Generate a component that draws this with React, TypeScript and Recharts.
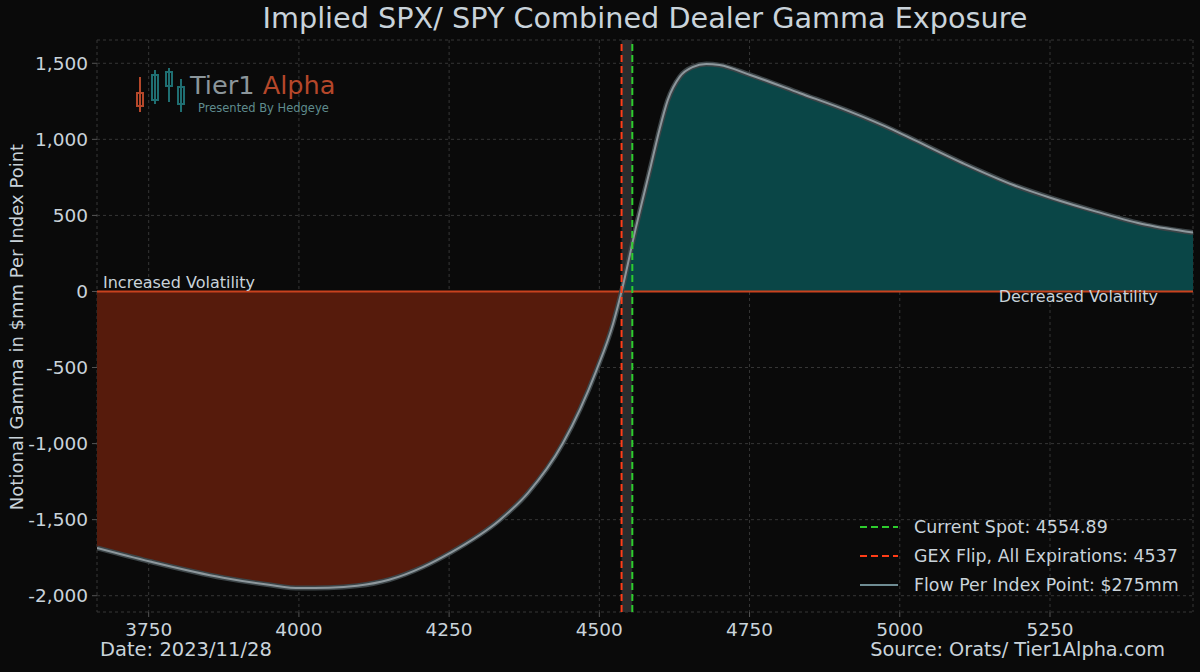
import React from 'react';
import {
  ComposedChart,
  Area,
  Line,
  XAxis,
  YAxis,
  CartesianGrid,
  ReferenceLine,
  ReferenceArea,
} from 'recharts';

const strikes = [
  3664, 3752, 3874, 3950, 4002, 4050, 4097, 4150, 4207, 4251, 4335, 4381, 4439,
  4495, 4523, 4537, 4560, 4586, 4600, 4614, 4634, 4655, 4678, 4700, 4751, 4834,
  4917, 4989, 5022, 5105, 5189, 5253, 5327, 5410, 5488,
];
const gamma = [
  -1686, -1775, -1882, -1928, -1950, -1948, -1935, -1895, -1810, -1720, -1500,
  -1325, -1000, -520, -210, 0, 405, 830, 1062, 1259, 1412, 1475, 1495, 1488, 1423,
  1303, 1182, 1062, 1000, 843, 700, 613, 525, 438, 387,
];
const xTicks = [3750, 4000, 4250, 4500, 4750, 5000, 5250];
const yTicks = [-2000, -1500, -1000, -500, 0, 500, 1000, 1500];
const currentSpot = 4554.89;
const gexFlip = 4537;
const flowPerPoint = 275;
const dateLabel = '2023/11/28';

const data = strikes.map((s, i) => ({
  strike: s,
  gamma: gamma[i],
  pos: Math.max(gamma[i], 0),
  neg: Math.min(gamma[i], 0),
}));

const FONT = '"DejaVu Sans", sans-serif';
const TXT = '#c9d3da';

const fmt = (v: number) => v.toLocaleString('en-US');

export default function App() {
  return (
    <div
      style={{
        position: 'absolute',
        left: 0,
        top: 0,
        width: 1200,
        height: 672,
        background: '#0a0a0a',
        fontFamily: FONT,
        overflow: 'hidden',
      }}
    >
      <ComposedChart
        width={1200}
        height={672}
        data={data}
        margin={{ top: 40, right: 7, left: 0, bottom: 0 }}
      >
        <CartesianGrid stroke="#363636" strokeDasharray="3 3" />
        <XAxis
          dataKey="strike"
          type="number"
          domain={[3664, 5488]}
          ticks={xTicks}
          height={60}
          axisLine={false}
          tickLine={{ stroke: '#555' }}
          tickSize={5}
          tickMargin={6}
          tick={{ fill: TXT, fontSize: 18.5, fontFamily: FONT }}
          allowDataOverflow
        />
        <YAxis
          type="number"
          domain={[-2107, 1653]}
          ticks={yTicks}
          width={97}
          axisLine={false}
          tickLine={{ stroke: '#555' }}
          tickSize={5}
          tickMargin={4}
          tickFormatter={fmt}
          tick={{ fill: TXT, fontSize: 18.5, fontFamily: FONT }}
          allowDataOverflow
        />
        <ReferenceArea x1={gexFlip} x2={currentSpot} fill="#2a2c2d" fillOpacity={1} stroke="none" />
        <Area
          type="monotone"
          dataKey="neg"
          stroke="none"
          fill="#561b0c"
          fillOpacity={1}
          isAnimationActive={false}
        />
        <Area
          type="monotone"
          dataKey="pos"
          stroke="none"
          fill="#0a4647"
          fillOpacity={1}
          isAnimationActive={false}
        />
        <ReferenceLine y={0} stroke="#c9421e" strokeWidth={2} />
        <Line
          type="monotone"
          dataKey="gamma"
          stroke="#3c4447"
          strokeWidth={5}
          dot={false}
          isAnimationActive={false}
        />
        <Line
          type="monotone"
          dataKey="gamma"
          stroke="#8d979c"
          strokeWidth={2}
          dot={false}
          isAnimationActive={false}
        />
        <ReferenceLine x={gexFlip} stroke="#ff3d17" strokeWidth={2} strokeDasharray="7 4" />
        <ReferenceLine x={currentSpot} stroke="#2ecc2e" strokeWidth={2} strokeDasharray="7 4" />
      </ComposedChart>

      {/* Title */}
      <div
        style={{
          position: 'absolute',
          left: 0,
          width: 1290,
          top: 1,
          textAlign: 'center',
          fontSize: 28.7,
          color: TXT,
          whiteSpace: 'nowrap',
        }}
      >
        Implied SPX/ SPY Combined Dealer Gamma Exposure
      </div>

      {/* Y axis label */}
      <div
        style={{
          position: 'absolute',
          left: 16,
          top: 327,
          transform: 'translate(-50%, -50%) rotate(-90deg)',
          fontSize: 18,
          color: TXT,
          whiteSpace: 'nowrap',
        }}
      >
        Notional Gamma in $mm Per Index Point
      </div>

      {/* Region labels */}
      <div style={{ position: 'absolute', left: 103, top: 273, fontSize: 16, color: TXT, whiteSpace: 'nowrap' }}>
        Increased Volatility
      </div>
      <div style={{ position: 'absolute', right: 42, top: 287, fontSize: 16, color: TXT, whiteSpace: 'nowrap' }}>
        Decreased Volatility
      </div>

      {/* Footer */}
      <div style={{ position: 'absolute', left: 100, top: 638, fontSize: 19.5, color: TXT, whiteSpace: 'nowrap' }}>
        Date: {dateLabel}
      </div>
      <div style={{ position: 'absolute', right: 35, top: 638, fontSize: 19.3, color: TXT, whiteSpace: 'nowrap' }}>
        Source: Orats/ Tier1Alpha.com
      </div>

      {/* Legend */}
      <svg style={{ position: 'absolute', left: 0, top: 0 }} width={1200} height={672}>
        <line x1={860} x2={898} y1={527} y2={527} stroke="#2ecc2e" strokeWidth={2} strokeDasharray="7 4" />
        <line x1={860} x2={898} y1={556} y2={556} stroke="#ff3d17" strokeWidth={2} strokeDasharray="7 4" />
        <line x1={860} x2={898} y1={585} y2={585} stroke="#6f8c93" strokeWidth={2} />
        <text x={914} y={533} fill={TXT} fontSize={17.4} fontFamily={FONT}>
          Current Spot: {currentSpot}
        </text>
        <text x={914} y={562} fill={TXT} fontSize={17.4} fontFamily={FONT}>
          GEX Flip, All Expirations: {gexFlip}
        </text>
        <text x={914} y={591} fill={TXT} fontSize={17.4} fontFamily={FONT}>
          Flow Per Index Point: ${flowPerPoint}mm
        </text>

        {/* Logo */}
        <line x1={140} x2={140} y1={77} y2={112} stroke="#b5472a" strokeWidth={2} />
        <rect x={137} y={93} width={6} height={13} fill="none" stroke="#b5472a" strokeWidth={2} />
        <line x1={155} x2={155} y1={70} y2={104} stroke="#1f6f72" strokeWidth={2} />
        <rect x={152} y={75} width={6} height={25} fill="none" stroke="#1f6f72" strokeWidth={2} />
        <line x1={169} x2={169} y1={68} y2={102} stroke="#1f6f72" strokeWidth={2} />
        <rect x={166} y={72} width={6} height={14} fill="none" stroke="#1f6f72" strokeWidth={2} />
        <line x1={181} x2={181} y1={79} y2={112} stroke="#1f6f72" strokeWidth={2} />
        <rect x={178} y={87} width={6} height={17} fill="none" stroke="#1f6f72" strokeWidth={2} />
        <text x={190} y={94} fontSize={25.6} fontFamily={FONT}>
          <tspan fill="#8c969b">Tier1 </tspan>
          <tspan fill="#b5472a">Alpha</tspan>
        </text>
        <text x={198} y={112} fontSize={11.5} fontFamily={FONT} fill="#5f8c8e">
          Presented By Hedgeye
        </text>
      </svg>
    </div>
  );
}
